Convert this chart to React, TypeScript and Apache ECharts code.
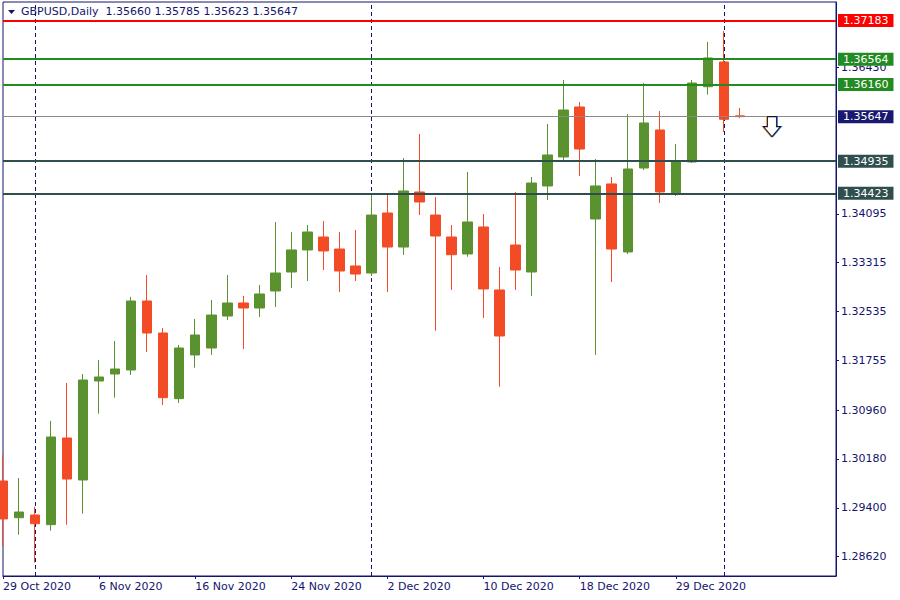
import React, { useEffect, useRef } from "react";
import * as echarts from "echarts";

const symbolName = "GBPUSD";
const timeframe = "Daily";

const dates = [
  "29 Oct 2020", "30 Oct 2020", "2 Nov 2020", "3 Nov 2020", "4 Nov 2020", "5 Nov 2020", "6 Nov 2020",
  "9 Nov 2020", "10 Nov 2020", "11 Nov 2020", "12 Nov 2020", "13 Nov 2020", "16 Nov 2020", "17 Nov 2020",
  "18 Nov 2020", "19 Nov 2020", "20 Nov 2020", "23 Nov 2020", "24 Nov 2020", "25 Nov 2020", "26 Nov 2020",
  "27 Nov 2020", "30 Nov 2020", "1 Dec 2020", "2 Dec 2020", "3 Dec 2020", "4 Dec 2020", "7 Dec 2020",
  "8 Dec 2020", "9 Dec 2020", "10 Dec 2020", "11 Dec 2020", "14 Dec 2020", "15 Dec 2020", "16 Dec 2020",
  "17 Dec 2020", "18 Dec 2020", "21 Dec 2020", "22 Dec 2020", "23 Dec 2020", "24 Dec 2020", "28 Dec 2020",
  "29 Dec 2020", "30 Dec 2020", "31 Dec 2020", "4 Jan 2021", "5 Jan 2021",
];

const opens = [
  1.29828, 1.29242, 1.29285, 1.29131, 1.30515, 1.29844, 1.31425, 1.31537, 1.31601, 1.32703, 1.32192, 1.31143,
  1.31841, 1.31952, 1.32463, 1.32671, 1.32591, 1.32863, 1.33166, 1.33518, 1.33725, 1.33533, 1.33262, 1.3315,
  1.34108, 1.33565, 1.34444, 1.34076, 1.33725, 1.33454, 1.33885, 1.32879, 1.33597, 1.33166, 1.3454, 1.35003,
  1.35801, 1.34013, 1.34572, 1.33486, 1.34827, 1.35434, 1.34428, 1.34923, 1.36125, 1.3652, 1.3566,
];
const closes = [
  1.29222, 1.29333, 1.29146, 1.30531, 1.2986, 1.31441, 1.31489, 1.31617, 1.32703, 1.32192, 1.31159, 1.31952,
  1.3216, 1.32479, 1.32671, 1.32591, 1.32815, 1.3315, 1.33518, 1.33805, 1.33502, 1.33182, 1.33134, 1.34076,
  1.33565, 1.3446, 1.34284, 1.33741, 1.33442, 1.33965, 1.32895, 1.32144, 1.33198, 1.34587, 1.35035, 1.35753,
  1.3513, 1.3454, 1.33533, 1.34811, 1.35546, 1.34444, 1.34939, 1.36184, 1.36584, 1.35605, 1.35647,
];
const lows = [
  1.2879, 1.28971, 1.28524, 1.29035, 1.29131, 1.29306, 1.30903, 1.31159, 1.31521, 1.31889, 1.31042, 1.31074,
  1.31638, 1.31841, 1.324, 1.31936, 1.32448, 1.32607, 1.32911, 1.33022, 1.33198, 1.32847, 1.33022, 1.33102,
  1.32847, 1.33438, 1.34076, 1.32229, 1.32879, 1.3341, 1.32432, 1.31334, 1.32879, 1.32783, 1.34316, 1.34923,
  1.34699, 1.31841, 1.33006, 1.33454, 1.34795, 1.34268, 1.3438, 1.34907, 1.35998, 1.35402, 1.35623,
];
const highs = [
  1.30244, 1.29876, 1.29418, 1.30787, 1.31393, 1.31537, 1.31761, 1.32064, 1.32767, 1.33118, 1.32272, 1.32,
  1.32416, 1.32719, 1.33118, 1.32783, 1.32959, 1.33965, 1.33805, 1.33917, 1.33981, 1.33805, 1.33837, 1.34412,
  1.34396, 1.34987, 1.3537, 1.34364, 1.33917, 1.34763, 1.34092, 1.33246, 1.34444, 1.34683, 1.3553, 1.36232,
  1.35881, 1.34971, 1.34683, 1.35689, 1.36184, 1.35737, 1.3521, 1.36232, 1.36839, 1.37015, 1.35785,
];

const futureBars = 6;
const yTickValues = [1.2862, 1.294, 1.3018, 1.3096, 1.31755, 1.32535, 1.33315, 1.34095, 1.3643];
const yRange = [1.28311, 1.37478];
const resistanceLevels = [1.37183, 1.36564, 1.3616];
const supportLevels = [1.34935, 1.34423];
const separatorDates = ["2 Nov 2020", "1 Dec 2020", "4 Jan 2021"];
const arrowBarIndex = 48;

const NAVY = "#14146e";
const BULL = "#5b9230";
const BEAR = "#f34b25";
const FONT = "DejaVu Sans";

export default function App() {
  const ref = useRef<HTMLDivElement>(null);

  useEffect(() => {
    document.body.style.margin = "0";
    if (!ref.current) return;
    const chart = echarts.init(ref.current, undefined, { renderer: "svg" });

    const categories = dates.concat(Array.from({ length: futureBars }, () => ""));
    const candles = dates.map((_, i) => [opens[i], closes[i], lows[i], highs[i]]);
    const last = dates.length - 1;
    const fmt = (v: number) => v.toFixed(5);
    const showIdx = (i: number, v: string) => i % 6 === 0 && v !== "";

    const levelColor = (i: number, kind: string) =>
      kind === "res" ? (i === 0 ? "#ff0000" : "#228b22") : "#2f4f4f";

    const levelLine = (v: number, color: string, width: number, bg: string) => ({
      yAxis: v,
      lineStyle: { color, width, type: "solid" },
      label: {
        show: true,
        position: "end",
        distance: 2,
        formatter: fmt(v),
        backgroundColor: bg,
        color: "#ffffff",
        padding: [1, 5, 1, 5],
        fontSize: 11,
        lineHeight: 11,
        fontFamily: FONT,
      },
    });

    const separatorLines: any[] = separatorDates.map((d) => ({
      xAxis: dates.indexOf(d),
      lineStyle: { color: NAVY, width: 1, type: [4, 3] },
      label: { show: false },
    }));

    const levelLines: any[] = [
      levelLine(closes[last], "#8a8a8a", 1, "#191970"),
      ...supportLevels.map((v, i) => levelLine(v, levelColor(i, "sup"), 2, levelColor(i, "sup"))),
      ...resistanceLevels.map((v, i) => levelLine(v, levelColor(i, "res"), 2, levelColor(i, "res"))),
    ];

    const arrowPath = "path://M4,0 L13,0 L13,10 L17,10 L8.5,20 L0,10 L4,10 Z";
    const arrowPoint = (dx: number, border: string, fill: string) => ({
      coord: [arrowBarIndex, closes[last]],
      symbol: arrowPath,
      symbolSize: [17, 20],
      symbolOffset: [dx, "50%"],
      itemStyle: { color: fill, borderColor: border, borderWidth: 1 },
      label: { show: false },
    });

    chart.setOption({
      animation: false,
      backgroundColor: "#ffffff",
      title: {
        text: `${symbolName},${timeframe}  ${fmt(opens[last])} ${fmt(highs[last])} ${fmt(lows[last])} ${fmt(closes[last])}`,
        left: 21,
        top: 6,
        padding: 0,
        textStyle: { color: NAVY, fontSize: 11, fontWeight: "normal", fontFamily: FONT },
      },
      graphic: [
        {
          type: "polygon",
          shape: { points: [[8, 10], [15, 10], [11.5, 14]] },
          style: { fill: NAVY },
        },
      ],
      grid: {
        left: 2,
        right: 64,
        top: 2,
        bottom: 24,
        show: true,
        borderColor: NAVY,
        borderWidth: 1,
        backgroundColor: "#ffffff",
      },
      xAxis: {
        type: "category",
        data: categories,
        boundaryGap: false,
        axisLine: { show: true, lineStyle: { color: NAVY, width: 1 } },
        axisTick: { show: true, length: 3, interval: showIdx, lineStyle: { color: NAVY } },
        axisLabel: {
          interval: showIdx,
          align: "left",
          color: NAVY,
          fontSize: 11,
          fontFamily: FONT,
          margin: 5,
          hideOverlap: false,
        },
        splitLine: { show: false },
      },
      yAxis: {
        type: "value",
        position: "right",
        min: yRange[0],
        max: yRange[1],
        splitLine: { show: false },
        axisLine: { show: true, lineStyle: { color: NAVY, width: 1 } },
        axisTick: { show: true, length: 3, customValues: yTickValues, lineStyle: { color: NAVY } },
        axisLabel: {
          customValues: yTickValues,
          formatter: (v: number) => fmt(v),
          color: NAVY,
          fontSize: 11,
          fontFamily: FONT,
          margin: 5,
        },
      },
      series: [
        {
          type: "line",
          data: [],
          silent: true,
          z: 1,
          markLine: {
            silent: true,
            z: 1,
            precision: 5,
            symbol: ["none", "none"],
            animation: false,
            data: separatorLines,
          },
        },
        {
          type: "candlestick",
          data: candles,
          barWidth: 10,
          clip: true,
          z: 2,
          itemStyle: {
            color: BULL,
            color0: BEAR,
            borderColor: BULL,
            borderColor0: BEAR,
            borderWidth: 1,
          },
        },
        {
          type: "line",
          data: [],
          silent: true,
          z: 3,
          markLine: {
            silent: true,
            z: 5,
            precision: 5,
            symbol: ["none", "none"],
            animation: false,
            data: levelLines,
          },
          markPoint: {
            silent: true,
            z: 6,
            precision: 5,
            animation: false,
            data: [
              arrowPoint(1, "#2a78c8", "#ffffff"),
              arrowPoint(-1, "#f0a040", "#ffffff"),
              arrowPoint(0, "#101030", "#ffffff"),
            ],
          },
        },
      ],
    });

    return () => chart.dispose();
  }, []);

  return <div ref={ref} style={{ width: 900, height: 600 }} />;
}
